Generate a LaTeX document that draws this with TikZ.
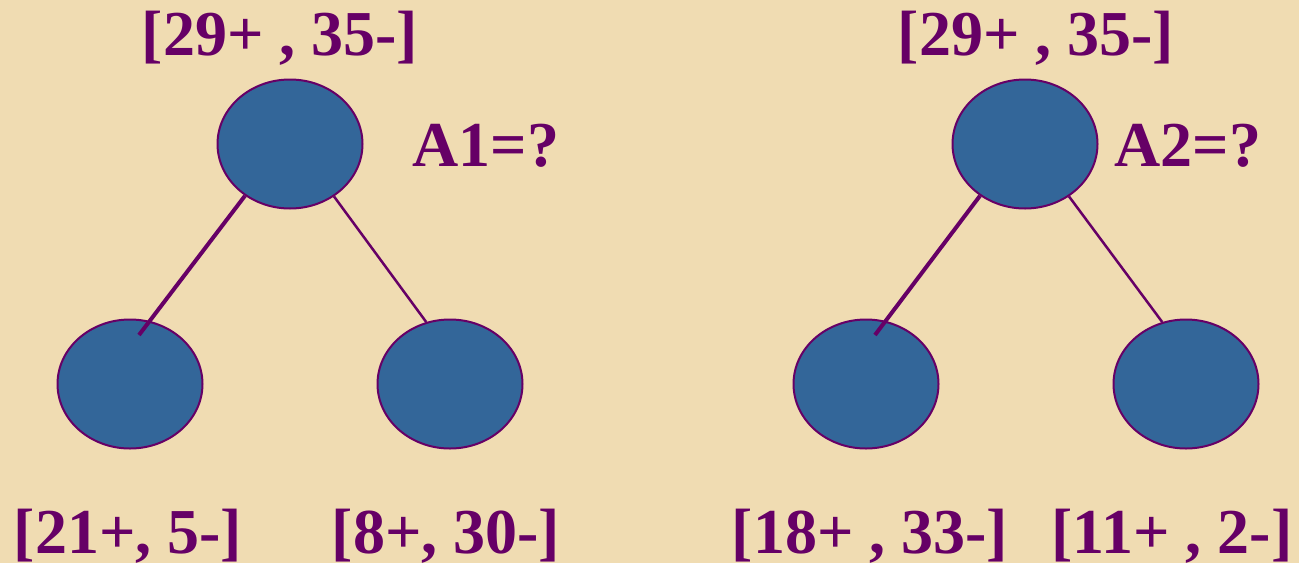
\documentclass[tikz,border=0pt]{standalone}
\usepackage{fontspec}
\setmainfont{Liberation Serif}
\usetikzlibrary{shapes.geometric, positioning, calc}

\definecolor{parch}{HTML}{F0DCB2}
\definecolor{plum}{HTML}{660066}
\definecolor{steel}{HTML}{336699}

\begin{document}
\begin{tikzpicture}[x=1pt, y=-1pt,
  leaf/.style={ellipse, draw=plum, fill=steel, line width=2pt, minimum width=145pt, minimum height=129pt, inner sep=0pt},
  count/.style={text=plum, font=\fontsize{64}{72}\selectfont\bfseries, anchor=base, inner sep=0pt},
  thickedge/.style={draw=plum, line width=4pt},
  thinedge/.style={draw=plum, line width=2.5pt}]

\fill[parch] (0,0) rectangle (1299,563);
\useasboundingbox (0,0) rectangle (1299,563);

% first split
\node[leaf] (rootA) at (290,144) {};
\node[leaf] (leftA) at (130,384) {};
\node[leaf] (rightA) at (450,384) {};
\node[count] (topA) at (280,55) {[29+ , 35-]};
\node[count] (gainA) at (486,166) {A1=?};
\node[count] (cntLA) at (128,553) {[21+, 5-]};
\node[count] (cntRA) at (446,553) {[8+, 30-]};

\draw[thickedge] (rootA.229) -- ([xshift=9pt, yshift=49pt]leftA.center);
\draw[thinedge] (rootA.310) -- (rightA.111);

% second split
\node[leaf] (rootB) at (1025,144) {};
\node[leaf] (leftB) at (866,384) {};
\node[leaf] (rightB) at (1186,384) {};
\node[count] (topB) at (1036,55) {[29+ , 35-]};
\node[count] (gainB) at (1188,166) {A2=?};
\node[count] (cntLB) at (870,553) {[18+ , 33-]};
\node[count] (cntRB) at (1172,553) {[11+ , 2-]};

\draw[thickedge] (rootB.229) -- ([xshift=9pt, yshift=49pt]leftB.center);
\draw[thinedge] (rootB.310) -- (rightB.111);

\end{tikzpicture}
\end{document}
